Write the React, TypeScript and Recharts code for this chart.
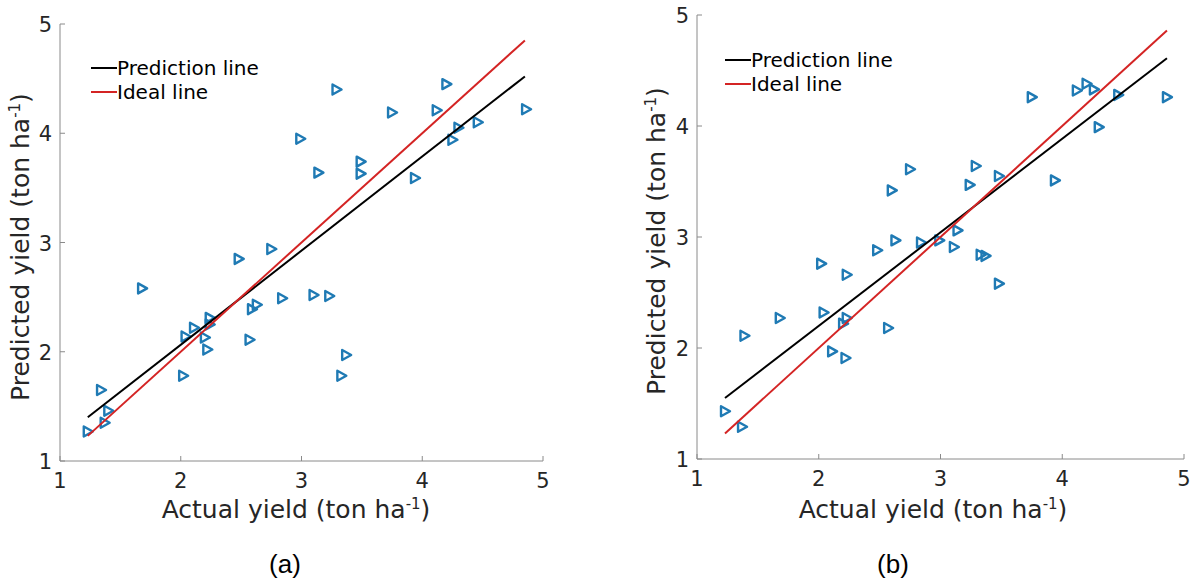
import React from "react"
import { ScatterChart, Scatter, XAxis, YAxis, Legend } from "recharts"

// panel (a)
const actualA = [3.29, 4.2, 3.75, 4.12, 4.86, 4.3, 4.46, 4.25, 2.99, 3.49, 3.14, 3.49, 3.94, 2.75, 2.48, 1.68, 2.84, 3.1, 3.23, 2.63, 2.59, 2.24, 2.11, 2.24, 2.04, 2.2, 2.57, 2.22, 3.37, 2.02, 3.33, 1.34, 1.4, 1.37, 1.23]
const predictedA = [4.4, 4.45, 4.19, 4.21, 4.22, 4.05, 4.1, 3.94, 3.95, 3.74, 3.64, 3.63, 3.59, 2.94, 2.85, 2.58, 2.49, 2.52, 2.51, 2.43, 2.39, 2.31, 2.22, 2.25, 2.14, 2.13, 2.11, 2.02, 1.97, 1.78, 1.78, 1.65, 1.46, 1.35, 1.27]
const predLineA = [{ x: 1.23, y: 1.4 }, { x: 4.85, y: 4.52 }]
const idealLineA = [{ x: 1.23, y: 1.23 }, { x: 4.85, y: 4.85 }]

// panel (b)
const actualB = [3.75, 4.12, 4.2, 4.26, 4.46, 4.86, 4.3, 2.75, 3.29, 3.48, 3.24, 3.94, 2.6, 3.14, 2.63, 2.48, 2.84, 2.99, 3.11, 3.33, 3.37, 3.48, 2.02, 2.23, 2.04, 1.68, 2.23, 2.2, 2.57, 1.39, 2.11, 2.22, 1.23, 1.37]
const predictedB = [4.26, 4.32, 4.38, 4.33, 4.28, 4.26, 3.99, 3.61, 3.64, 3.55, 3.47, 3.51, 3.42, 3.06, 2.97, 2.88, 2.95, 2.97, 2.91, 2.84, 2.83, 2.58, 2.76, 2.66, 2.32, 2.27, 2.27, 2.22, 2.18, 2.11, 1.97, 1.91, 1.43, 1.29]
const predLineB = [{ x: 1.23, y: 1.55 }, { x: 4.86, y: 4.61 }]
const idealLineB = [{ x: 1.23, y: 1.23 }, { x: 4.86, y: 4.86 }]

const ticks = [1, 2, 3, 4, 5]
const legendItems = [
  { name: "Prediction line", color: "#000000" },
  { name: "Ideal line", color: "#d42424" },
]

const FONT = "DejaVu Sans"
const TEXT = "#262626"
const AXIS = "#8a8a8a"
const MARKER = "#1f7ab4"

const Triangle = (props: any) => {
  const { cx, cy } = props
  if (cx == null || cy == null) return <g />
  return (
    <path
      d={`M${cx - 4},${cy - 5} L${cx + 5},${cy} L${cx - 4},${cy + 5} Z`}
      fill="none"
      stroke={MARKER}
      strokeWidth={2.4}
      strokeLinejoin="round"
    />
  )
}

const XTick = (props: any) => {
  const { x, y, payload } = props
  return (
    <g>
      <line x1={x} y1={y} x2={x} y2={y - 5} stroke={AXIS} />
      <text x={x} y={y + 27} textAnchor="middle" fontSize={21} fill={TEXT} fontFamily={FONT}>
        {payload.value}
      </text>
    </g>
  )
}

const YTick = (props: any) => {
  const { x, y, payload } = props
  return (
    <g>
      <line x1={x} y1={y} x2={x + 5} y2={y} stroke={AXIS} />
      <text x={x - 8} y={y + 8} textAnchor="end" fontSize={21} fill={TEXT} fontFamily={FONT}>
        {payload.value}
      </text>
    </g>
  )
}

const Title = ({ prefix }: { prefix: string }) => (
  <>
    {prefix} (ton ha
    <tspan baselineShift="super" fontSize={15}>-1</tspan>
    <tspan>)</tspan>
  </>
)

const renderLegend = () => (
  <div style={{ fontFamily: FONT, fontSize: 20, color: "#000" }}>
    {legendItems.map((it) => (
      <div key={it.name} style={{ display: "flex", alignItems: "center", height: 24 }}>
        <svg width={26} height={4}>
          <line x1={0} y1={2} x2={26} y2={2} stroke={it.color} strokeWidth={2} />
        </svg>
        <span>{it.name}</span>
      </div>
    ))}
  </div>
)

type PanelProps = {
  actual: number[]
  predicted: number[]
  predLine: { x: number; y: number }[]
  idealLine: { x: number; y: number }[]
  width: number
  margin: { top: number; right: number; left: number; bottom: number }
  yLabelX: number
  yLabelY: number
  xLabelX: number
  legendPos: { left: number; top: number }
}

function Panel(p: PanelProps) {
  const points = p.actual.map((a, i) => ({ x: a, y: p.predicted[i] }))
  return (
    <ScatterChart width={p.width} height={580} margin={p.margin}>
      <XAxis
        type="number"
        dataKey="x"
        domain={[1, 5]}
        ticks={ticks}
        allowDataOverflow
        height={40}
        tickSize={0}
        tickMargin={0}
        stroke={AXIS}
        tick={<XTick />}
        label={() => (
          <text x={p.xLabelX} y={518} textAnchor="middle" fontSize={25} fill={TEXT} fontFamily={FONT}>
            <Title prefix="Actual yield" />
          </text>
        )}
      />
      <YAxis
        type="number"
        dataKey="y"
        domain={[1, 5]}
        ticks={ticks}
        allowDataOverflow
        width={50}
        tickSize={0}
        tickMargin={0}
        stroke={AXIS}
        tick={<YTick />}
        label={() => (
          <text
            x={p.yLabelX}
            y={p.yLabelY}
            textAnchor="middle"
            fontSize={25}
            fill={TEXT}
            fontFamily={FONT}
            transform={`rotate(-90, ${p.yLabelX}, ${p.yLabelY})`}
          >
            <Title prefix="Predicted yield" />
          </text>
        )}
      />
      <Legend
        layout="horizontal"
        verticalAlign="middle"
        content={renderLegend}
        wrapperStyle={{ position: "absolute", left: p.legendPos.left, top: p.legendPos.top, width: "auto" }}
      />
      <Scatter data={points} shape={<Triangle />} isAnimationActive={false} legendType="none" />
      <Scatter
        data={p.predLine}
        line={{ stroke: "#000000", strokeWidth: 2 }}
        shape={() => <g />}
        isAnimationActive={false}
        legendType="none"
      />
      <Scatter
        data={p.idealLine}
        line={{ stroke: "#d42424", strokeWidth: 2 }}
        shape={() => <g />}
        isAnimationActive={false}
        legendType="none"
      />
    </ScatterChart>
  )
}

export default function App() {
  return (
    <div style={{ position: "absolute", left: 0, top: 0, width: 1193, height: 580, background: "#fff" }}>
      <div style={{ position: "absolute", left: 0, top: 0 }}>
        <Panel
          actual={actualA}
          predicted={predictedA}
          predLine={predLineA}
          idealLine={idealLineA}
          width={560}
          margin={{ top: 24, right: 17, left: 10, bottom: 79 }}
          yLabelX={29}
          yLabelY={247}
          xLabelX={296}
          legendPos={{ left: 91, top: 56 }}
        />
      </div>
      <div style={{ position: "absolute", left: 640, top: 0 }}>
        <Panel
          actual={actualB}
          predicted={predictedB}
          predLine={predLineB}
          idealLine={idealLineB}
          width={553}
          margin={{ top: 15, right: 9, left: 7, bottom: 81 }}
          yLabelX={25}
          yLabelY={241}
          xLabelX={293}
          legendPos={{ left: 85, top: 48 }}
        />
      </div>
      <div style={{ position: "absolute", left: 285, top: 564, transform: "translate(-50%, -50%)", fontFamily: "Liberation Sans", fontSize: 26, color: "#000" }}>
        (a)
      </div>
      <div style={{ position: "absolute", left: 893, top: 564, transform: "translate(-50%, -50%)", fontFamily: "Liberation Sans", fontSize: 26, color: "#000" }}>
        (b)
      </div>
    </div>
  )
}
